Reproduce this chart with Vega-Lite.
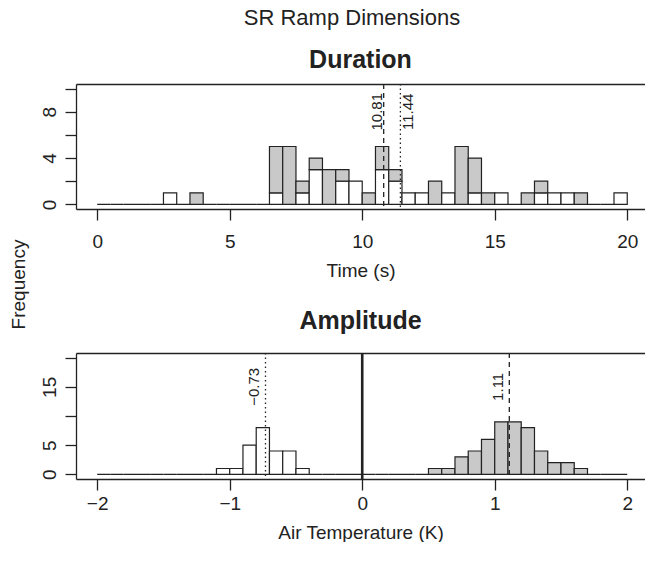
{
  "$schema": "https://vega.github.io/schema/vega-lite/v6.json",
  "padding": {"left": 9, "top": 7, "right": 0, "bottom": 0},
  "title": {"text": "SR Ramp Dimensions", "fontSize": 22, "fontWeight": "normal", "anchor": "middle", "offset": 18, "dx": 25},
  "bounds": "flush",
  "spacing": 144,
  "config": {
    "font": "Liberation Sans",
    "view": {"stroke": null},
    "title": {"font": "Liberation Sans", "color": "#222"},
    "axis": {"domain": true, "domainColor": "#222", "domainWidth": 1.3, "tickColor": "#222", "tickWidth": 1.3, "tickSize": 11, "tickCount": 50, "format": "d", "labelFont": "Liberation Sans", "labelFontSize": 19, "labelColor": "#222", "titleFont": "Liberation Sans", "titleFontSize": 19, "titleFontWeight": "normal", "titleColor": "#222", "grid": false, "labelPadding": 10, "titlePadding": 10, "labelFlush": false, "labelOverlap": false},
    "axisY": {"labelAngle": -90, "labelAlign": "center", "labelBaseline": "bottom", "labelPadding": 6}
  },
  "datasets": {
    "duration": [
      {"start": 0.0, "end": 0.5, "grp": "neg", "n": 0},
      {"start": 0.5, "end": 1.0, "grp": "neg", "n": 0},
      {"start": 1.0, "end": 1.5, "grp": "neg", "n": 0},
      {"start": 1.5, "end": 2.0, "grp": "neg", "n": 0},
      {"start": 2.0, "end": 2.5, "grp": "neg", "n": 0},
      {"start": 2.5, "end": 3.0, "grp": "neg", "n": 1},
      {"start": 3.0, "end": 3.5, "grp": "neg", "n": 0},
      {"start": 3.5, "end": 4.0, "grp": "pos", "n": 1},
      {"start": 4.0, "end": 4.5, "grp": "neg", "n": 0},
      {"start": 4.5, "end": 5.0, "grp": "neg", "n": 0},
      {"start": 5.0, "end": 5.5, "grp": "neg", "n": 0},
      {"start": 5.5, "end": 6.0, "grp": "neg", "n": 0},
      {"start": 6.0, "end": 6.5, "grp": "neg", "n": 0},
      {"start": 6.5, "end": 7.0, "grp": "neg", "n": 1},
      {"start": 6.5, "end": 7.0, "grp": "pos", "n": 4},
      {"start": 7.0, "end": 7.5, "grp": "pos", "n": 5},
      {"start": 7.5, "end": 8.0, "grp": "neg", "n": 1},
      {"start": 7.5, "end": 8.0, "grp": "pos", "n": 1},
      {"start": 8.0, "end": 8.5, "grp": "neg", "n": 3},
      {"start": 8.0, "end": 8.5, "grp": "pos", "n": 1},
      {"start": 8.5, "end": 9.0, "grp": "pos", "n": 3},
      {"start": 9.0, "end": 9.5, "grp": "neg", "n": 2},
      {"start": 9.0, "end": 9.5, "grp": "pos", "n": 1},
      {"start": 9.5, "end": 10.0, "grp": "neg", "n": 2},
      {"start": 10.0, "end": 10.5, "grp": "pos", "n": 1},
      {"start": 10.5, "end": 11.0, "grp": "neg", "n": 3},
      {"start": 10.5, "end": 11.0, "grp": "pos", "n": 2},
      {"start": 11.0, "end": 11.5, "grp": "neg", "n": 2},
      {"start": 11.0, "end": 11.5, "grp": "pos", "n": 1},
      {"start": 11.5, "end": 12.0, "grp": "neg", "n": 1},
      {"start": 12.0, "end": 12.5, "grp": "neg", "n": 1},
      {"start": 12.5, "end": 13.0, "grp": "pos", "n": 2},
      {"start": 13.0, "end": 13.5, "grp": "neg", "n": 1},
      {"start": 13.5, "end": 14.0, "grp": "pos", "n": 5},
      {"start": 14.0, "end": 14.5, "grp": "neg", "n": 1},
      {"start": 14.0, "end": 14.5, "grp": "pos", "n": 3},
      {"start": 14.5, "end": 15.0, "grp": "pos", "n": 1},
      {"start": 15.0, "end": 15.5, "grp": "neg", "n": 1},
      {"start": 15.5, "end": 16.0, "grp": "neg", "n": 0},
      {"start": 16.0, "end": 16.5, "grp": "pos", "n": 1},
      {"start": 16.5, "end": 17.0, "grp": "neg", "n": 1},
      {"start": 16.5, "end": 17.0, "grp": "pos", "n": 1},
      {"start": 17.0, "end": 17.5, "grp": "neg", "n": 1},
      {"start": 17.5, "end": 18.0, "grp": "neg", "n": 1},
      {"start": 18.0, "end": 18.5, "grp": "pos", "n": 1},
      {"start": 18.5, "end": 19.0, "grp": "neg", "n": 0},
      {"start": 19.0, "end": 19.5, "grp": "neg", "n": 0},
      {"start": 19.5, "end": 20.0, "grp": "neg", "n": 1}
    ],
    "amplitude": [
      {"start": -2.0, "end": -1.9, "grp": "neg", "n": 0},
      {"start": -1.9, "end": -1.8, "grp": "neg", "n": 0},
      {"start": -1.8, "end": -1.7, "grp": "neg", "n": 0},
      {"start": -1.7, "end": -1.6, "grp": "neg", "n": 0},
      {"start": -1.6, "end": -1.5, "grp": "neg", "n": 0},
      {"start": -1.5, "end": -1.4, "grp": "neg", "n": 0},
      {"start": -1.4, "end": -1.3, "grp": "neg", "n": 0},
      {"start": -1.3, "end": -1.2, "grp": "neg", "n": 0},
      {"start": -1.2, "end": -1.1, "grp": "neg", "n": 0},
      {"start": -1.1, "end": -1.0, "grp": "neg", "n": 1},
      {"start": -1.0, "end": -0.9, "grp": "neg", "n": 1},
      {"start": -0.9, "end": -0.8, "grp": "neg", "n": 5},
      {"start": -0.8, "end": -0.7, "grp": "neg", "n": 8},
      {"start": -0.7, "end": -0.6, "grp": "neg", "n": 4},
      {"start": -0.6, "end": -0.5, "grp": "neg", "n": 4},
      {"start": -0.5, "end": -0.4, "grp": "neg", "n": 1},
      {"start": -0.4, "end": -0.3, "grp": "neg", "n": 0},
      {"start": -0.3, "end": -0.2, "grp": "neg", "n": 0},
      {"start": -0.2, "end": -0.1, "grp": "neg", "n": 0},
      {"start": -0.1, "end": 0.0, "grp": "neg", "n": 0},
      {"start": 0.0, "end": 0.1, "grp": "pos", "n": 0},
      {"start": 0.1, "end": 0.2, "grp": "pos", "n": 0},
      {"start": 0.2, "end": 0.3, "grp": "pos", "n": 0},
      {"start": 0.3, "end": 0.4, "grp": "pos", "n": 0},
      {"start": 0.4, "end": 0.5, "grp": "pos", "n": 0},
      {"start": 0.5, "end": 0.6, "grp": "pos", "n": 1},
      {"start": 0.6, "end": 0.7, "grp": "pos", "n": 1},
      {"start": 0.7, "end": 0.8, "grp": "pos", "n": 3},
      {"start": 0.8, "end": 0.9, "grp": "pos", "n": 4},
      {"start": 0.9, "end": 1.0, "grp": "pos", "n": 6},
      {"start": 1.0, "end": 1.1, "grp": "pos", "n": 9},
      {"start": 1.1, "end": 1.2, "grp": "pos", "n": 9},
      {"start": 1.2, "end": 1.3, "grp": "pos", "n": 8},
      {"start": 1.3, "end": 1.4, "grp": "pos", "n": 4},
      {"start": 1.4, "end": 1.5, "grp": "pos", "n": 2},
      {"start": 1.5, "end": 1.6, "grp": "pos", "n": 2},
      {"start": 1.6, "end": 1.7, "grp": "pos", "n": 1},
      {"start": 1.7, "end": 1.8, "grp": "pos", "n": 0},
      {"start": 1.8, "end": 1.9, "grp": "pos", "n": 0},
      {"start": 1.9, "end": 2.0, "grp": "pos", "n": 0}
    ],
    "durLines": [
      {"stat": "median", "value": 10.81},
      {"stat": "mean", "value": 11.44}
    ],
    "ampLines": [
      {"stat": "zero", "value": 0},
      {"stat": "negative", "value": -0.73},
      {"stat": "positive", "value": 1.11}
    ]
  },
  "vconcat": [
    {
      "width": 569,
      "height": 125,
      "title": {"text": "Duration", "fontSize": 25, "fontWeight": "bold", "offset": 10},
      "resolve": {"axis": {"x": "independent"}},
      "layer": [
        {
          "data": {"name": "duration"},
          "transform": [{"stack": "n", "groupby": ["start"], "sort": [{"field": "grp", "order": "ascending"}], "as": ["lo", "hi"]}],
          "mark": {"type": "bar", "stroke": "#222", "strokeWidth": 1.2},
          "encoding": {
            "x": {"field": "start", "type": "quantitative", "scale": {"domain": [-0.8, 20.67], "nice": false, "zero": false}, "axis": {"orient": "bottom", "values": [0, 5, 10, 15, 20], "title": "Time (s)", "labelPadding": 12, "titlePadding": 10}},
            "x2": {"field": "end"},
            "y": {"field": "lo", "type": "quantitative", "scale": {"domain": [-0.4, 10.4], "nice": false}, "axis": {"domain": true, "values": [0, 2, 4, 6, 8, 10], "labelExpr": "datum.value % 4 === 0 ? datum.label : ''", "title": "Frequency", "titleX": -48, "titleY": 200, "titleAnchor": "middle"}},
            "y2": {"field": "hi"},
            "fill": {"field": "grp", "type": "nominal", "scale": {"domain": ["neg", "pos"], "range": ["#ffffff", "#c9c9c9"]}, "legend": null}
          }
        },
        {
          "data": {"name": "durLines"},
          "transform": [{"filter": "datum.stat === 'median'"}],
          "mark": {"type": "rule", "strokeDash": [5, 4], "strokeWidth": 1.3, "color": "#222"},
          "encoding": {"x": {"field": "value", "type": "quantitative", "axis": {"orient": "top", "labels": false, "ticks": false, "title": null, "domain": true}}}
        },
        {
          "data": {"name": "durLines"},
          "transform": [{"filter": "datum.stat === 'mean'"}],
          "mark": {"type": "rule", "strokeDash": [1.5, 3], "strokeWidth": 1.3, "color": "#222"},
          "encoding": {"x": {"field": "value", "type": "quantitative", "axis": null}}
        },
        {
          "data": {"name": "durLines"},
          "transform": [{"filter": "datum.stat === 'median'"}],
          "mark": {"type": "text", "angle": 270, "align": "center", "baseline": "alphabetic", "dy": -2, "fontSize": 15, "color": "#222"},
          "encoding": {"x": {"field": "value", "type": "quantitative", "axis": null}, "y": {"datum": 8, "type": "quantitative"}, "text": {"field": "value", "type": "quantitative", "format": ".2f"}}
        },
        {
          "data": {"name": "durLines"},
          "transform": [{"filter": "datum.stat === 'mean'"}],
          "mark": {"type": "text", "angle": 270, "align": "center", "baseline": "top", "dy": 1, "fontSize": 15, "color": "#222"},
          "encoding": {"x": {"field": "value", "type": "quantitative", "axis": null}, "y": {"datum": 8, "type": "quantitative"}, "text": {"field": "value", "type": "quantitative", "format": ".2f"}}
        }
      ]
    },
    {
      "width": 569,
      "height": 126,
      "title": {"text": "Amplitude", "fontSize": 25, "fontWeight": "bold", "offset": 18},
      "resolve": {"axis": {"x": "independent"}},
      "layer": [
        {
          "data": {"name": "amplitude"},
          "transform": [{"stack": "n", "groupby": ["start"], "sort": [{"field": "grp", "order": "ascending"}], "as": ["lo", "hi"]}],
          "mark": {"type": "bar", "stroke": "#222", "strokeWidth": 1.2},
          "encoding": {
            "x": {"field": "start", "type": "quantitative", "scale": {"domain": [-2.16, 2.134], "nice": false, "zero": false}, "axis": {"orient": "bottom", "values": [-2, -1, 0, 1, 2], "title": "Air Temperature (K)", "labelPadding": 4, "titlePadding": 10}},
            "x2": {"field": "end"},
            "y": {"field": "lo", "type": "quantitative", "scale": {"domain": [-0.8, 20.8], "nice": false}, "axis": {"domain": true, "values": [0, 5, 10, 15, 20], "labelExpr": "datum.value === 10 || datum.value === 20 ? '' : datum.label", "title": null}},
            "y2": {"field": "hi"},
            "fill": {"field": "grp", "type": "nominal", "scale": {"domain": ["neg", "pos"], "range": ["#ffffff", "#c9c9c9"]}, "legend": null}
          }
        },
        {
          "data": {"name": "ampLines"},
          "transform": [{"filter": "datum.stat === 'zero'"}],
          "mark": {"type": "rule", "strokeWidth": 2.6, "color": "#222"},
          "encoding": {"x": {"field": "value", "type": "quantitative", "axis": {"orient": "top", "labels": false, "ticks": false, "title": null, "domain": true}}}
        },
        {
          "data": {"name": "ampLines"},
          "transform": [{"filter": "datum.stat === 'negative'"}],
          "mark": {"type": "rule", "strokeDash": [1.5, 3], "strokeWidth": 1.3, "color": "#222"},
          "encoding": {"x": {"field": "value", "type": "quantitative", "axis": null}}
        },
        {
          "data": {"name": "ampLines"},
          "transform": [{"filter": "datum.stat === 'positive'"}],
          "mark": {"type": "rule", "strokeDash": [5, 4], "strokeWidth": 1.3, "color": "#222"},
          "encoding": {"x": {"field": "value", "type": "quantitative", "axis": null}}
        },
        {
          "data": {"name": "ampLines"},
          "transform": [{"filter": "datum.stat !== 'zero'"}],
          "mark": {"type": "text", "angle": 270, "align": "center", "baseline": "alphabetic", "dy": -6, "fontSize": 15, "color": "#222"},
          "encoding": {"x": {"field": "value", "type": "quantitative", "axis": null}, "y": {"datum": 15, "type": "quantitative"}, "text": {"field": "value", "type": "quantitative", "format": ".2f"}}
        }
      ]
    }
  ]
}
